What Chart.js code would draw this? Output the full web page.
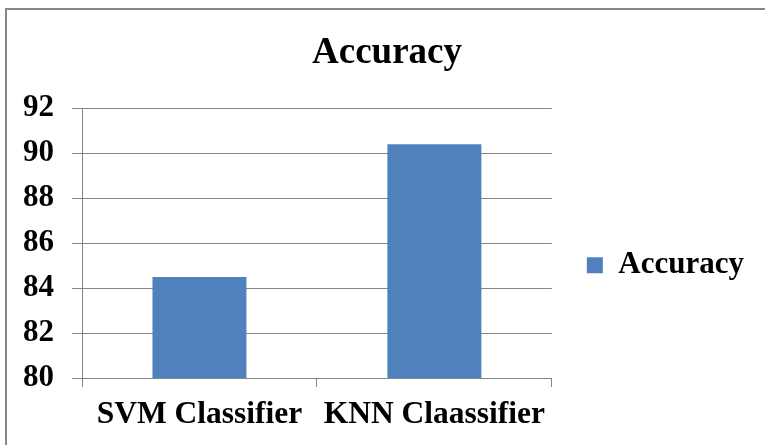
<!DOCTYPE html>
<html>
<head>
<meta charset="utf-8">
<script src="https://cdn.jsdelivr.net/npm/chart.js@4/dist/chart.umd.min.js"></script>
<style>
  html, body { margin: 0; padding: 0; background: #fff; }
  #wrap { position: relative; width: 765px; height: 445px; overflow: hidden; }
  #frame { position: absolute; left: 5px; top: 8px; width: 800px; height: 500px;
           border-left: 2px solid #868686; border-top: 2px solid #868686; }
  #c { position: absolute; left: 0; top: 0; }
</style>
</head>
<body>
<div id="wrap">
  <div id="frame"></div>
  <canvas id="c" width="765" height="445"></canvas>
</div>
<script>
// data
const categories = ['SVM Classifier', 'KNN Claassifier'];
const accuracy = [84.5, 90.4];
const seriesName = 'Accuracy';
const yMin = 80;
const yMax = 92;
const yStep = 2;

const FONT = '"Liberation Serif", "Times New Roman", serif';
const GRID = '#868686';
const PAD_LEFT = 20;
const PAD_RIGHT = 11;

// push the legend down a little, as in the picture
const legendShift = {
  id: 'legendShift',
  afterLayout(chart) {
    if (chart.legend) {
      chart.legend.top += 22;
      chart.legend.bottom += 22;
    }
  }
};

new Chart(document.getElementById('c'), {
  type: 'bar',
  data: {
    labels: categories,
    datasets: [{
      label: seriesName,
      data: accuracy,
      backgroundColor: '#4F81BD',
      borderWidth: 0,
      barPercentage: 0.4,
      categoryPercentage: 1
    }]
  },
  options: {
    responsive: false,
    animation: false,
    layout: { padding: { left: PAD_LEFT, right: PAD_RIGHT, top: 0, bottom: 0 } },
    plugins: {
      title: {
        display: true,
        text: seriesName,
        color: '#000',
        font: { family: FONT, size: 37, weight: 'bold' },
        padding: { top: 31, bottom: 33 }
      },
      legend: {
        position: 'right',
        fullSize: false,
        maxWidth: 260,
        labels: {
          color: '#000',
          boxWidth: 16,
          boxHeight: 16,
          padding: 35,
          font: { family: FONT, size: 31, weight: 'bold' }
        }
      },
      tooltip: { enabled: false }
    },
    scales: {
      x: {
        afterFit(scale) { scale.height = 67; },
        grid: {
          offset: true,
          drawOnChartArea: false,
          drawTicks: true,
          tickLength: 9,
          color: GRID
        },
        border: { display: true, color: GRID },
        ticks: {
          color: '#000',
          padding: 9,
          font: { family: FONT, size: 31.5, weight: 'bold' }
        }
      },
      y: {
        min: yMin,
        max: yMax,
        afterFit(scale) { scale.width = 82 - PAD_LEFT; },
        grid: { color: GRID, tickLength: 10 },
        border: { display: true, color: GRID },
        ticks: {
          stepSize: yStep,
          color: '#000',
          padding: 18,
          font: { family: FONT, size: 31, weight: 'bold' }
        }
      }
    }
  },
  plugins: [legendShift]
});
</script>
</body>
</html>
